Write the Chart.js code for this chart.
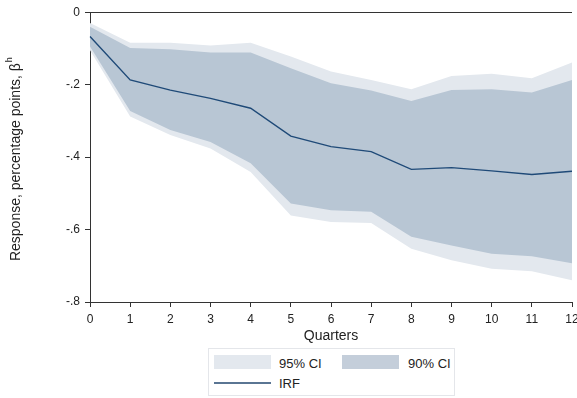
<!DOCTYPE html>
<html>
<head>
<meta charset="utf-8">
<script src="https://cdn.jsdelivr.net/npm/chart.js@4"></script>
<style>
  html, body { margin: 0; padding: 0; background: #fff; }
  #wrap { position: relative; width: 577px; height: 398px; }
  #irfChart { position: absolute; left: 0; top: 0; }
  #legend {
    position: absolute; left: 208px; top: 348px; width: 247px; height: 48px;
    border: 1px solid #e4e6ea; box-sizing: border-box; background: #fff;
    font-family: "Liberation Sans", Arial, sans-serif; font-size: 13px; color: #222;
  }
  #legend .sw { position: absolute; }
  #legend .lbl { position: absolute; line-height: 14px; }
</style>
</head>
<body>
<div id="wrap">
  <canvas id="irfChart" width="577" height="345"></canvas>
  <div id="legend">
    <div class="sw" style="left:5px;top:6px;width:57px;height:14px;background:#e3e8ee;"></div>
    <div class="lbl" style="left:70px;top:8px;">95% CI</div>
    <div class="sw" style="left:133px;top:6px;width:57px;height:14px;background:#c4ceda;"></div>
    <div class="lbl" style="left:199px;top:8px;">90% CI</div>
    <div class="sw" style="left:5px;top:33px;width:57px;height:2px;background:#5a7593;"></div>
    <div class="lbl" style="left:70px;top:28px;">IRF</div>
  </div>
</div>
<script>
// horizon (quarters after the shock)
var quarters = [0, 1, 2, 3, 4, 5, 6, 7, 8, 9, 10, 11, 12];

// impulse response point estimate
var irf = [-0.067, -0.187, -0.215, -0.238, -0.265, -0.342, -0.371, -0.385, -0.434, -0.429, -0.438, -0.448, -0.439];

// 90% confidence band
var ci90Upper = [-0.040, -0.099, -0.102, -0.111, -0.111, -0.155, -0.196, -0.216, -0.245, -0.215, -0.213, -0.222, -0.187];
var ci90Lower = [-0.095, -0.273, -0.325, -0.358, -0.417, -0.528, -0.547, -0.551, -0.620, -0.644, -0.667, -0.674, -0.693];

// 95% confidence band
var ci95Upper = [-0.030, -0.084, -0.084, -0.092, -0.084, -0.122, -0.164, -0.187, -0.213, -0.176, -0.170, -0.182, -0.139];
var ci95Lower = [-0.105, -0.288, -0.339, -0.376, -0.441, -0.561, -0.579, -0.582, -0.653, -0.685, -0.708, -0.715, -0.740];

// y-axis ticks, Stata style
var yTicks = [0, -0.2, -0.4, -0.6, -0.8];

var FONT = "'Liberation Sans', Arial, sans-serif";
var AXIS = "#333";

function stataFmt(v) {
    if (Math.abs(v) < 1e-9) return "0";
    return v.toFixed(1).replace("0.", ".");
}

// vertical y-axis title with a superscript h on beta
var yTitlePlugin = {
    id: "yTitle",
    afterDraw: function (chart) {
        var c = chart.ctx;
        var area = chart.chartArea;
        var main = "Response, percentage points, \u03B2";
        var sup = "h";
        c.save();
        c.fillStyle = "#222";
        c.font = "14px " + FONT;
        var wMain = c.measureText(main).width;
        c.font = "9px " + FONT;
        var wSup = c.measureText(sup).width;
        var total = wMain + wSup + 1;
        c.translate(16, (area.top + area.bottom) / 2 + 2);
        c.rotate(-Math.PI / 2);
        c.textBaseline = "middle";
        c.textAlign = "left";
        c.font = "14px " + FONT;
        c.fillText(main, -total / 2, 0);
        c.font = "9px " + FONT;
        c.fillText(sup, -total / 2 + wMain + 1, -6);
        c.restore();
    }
};

var ctx = document.getElementById("irfChart");
new Chart(ctx, {
    type: "line",
    data: {
        labels: quarters,
        datasets: [
            { label: "95% CI lower", data: ci95Lower, borderWidth: 0, pointRadius: 0, fill: false, order: 5 },
            { label: "95% CI", data: ci95Upper, borderWidth: 0, pointRadius: 0,
              fill: { target: 0 }, backgroundColor: "#e3e8ee", order: 4 },
            { label: "90% CI lower", data: ci90Lower, borderWidth: 0, pointRadius: 0, fill: false, order: 3 },
            { label: "90% CI", data: ci90Upper, borderWidth: 0, pointRadius: 0,
              fill: { target: 2 }, backgroundColor: "#b8c6d4", order: 2 },
            { label: "IRF", data: irf, borderColor: "#1f4a78", borderWidth: 1.4,
              pointRadius: 0, fill: false, tension: 0, order: 1 }
        ]
    },
    options: {
        responsive: false,
        animation: false,
        layout: { padding: { left: 0, right: 5, top: 12, bottom: 0 } },
        plugins: { legend: { display: false }, tooltip: { enabled: false } },
        scales: {
            x: {
                type: "category",
                offset: false,
                border: { display: true, color: AXIS, width: 1 },
                grid: { drawOnChartArea: false, tickLength: 5, tickColor: AXIS, color: AXIS },
                ticks: { color: "#222", font: { family: FONT, size: 12 }, padding: 5, maxRotation: 0, autoSkip: false },
                title: { display: true, text: "Quarters", color: "#222", font: { family: FONT, size: 14 }, padding: { top: 2, bottom: 0 } },
                afterFit: function (scale) {
                    scale.height = 43;
                    // let the last label run to the canvas edge
                    scale.paddingRight = 0;
                    scale.paddingLeft = 0;
                }
            },
            y: {
                min: -0.8,
                max: 0,
                afterBuildTicks: function (scale) {
                    scale.ticks = yTicks.map(function (v) { return { value: v }; });
                },
                border: { display: true, color: AXIS, width: 1 },
                grid: {
                    drawOnChartArea: true,
                    tickLength: 5,
                    tickColor: AXIS,
                    color: function (c) { return c.tick && Math.abs(c.tick.value) < 1e-9 ? AXIS : "rgba(0,0,0,0)"; }
                },
                ticks: {
                    color: "#222",
                    font: { family: FONT, size: 12 },
                    padding: 5,
                    callback: function (value) { return stataFmt(value); }
                },
                title: { display: false },
                afterFit: function (scale) { scale.width = 90; }
            }
        }
    },
    plugins: [yTitlePlugin]
});
</script>
</body>
</html>
